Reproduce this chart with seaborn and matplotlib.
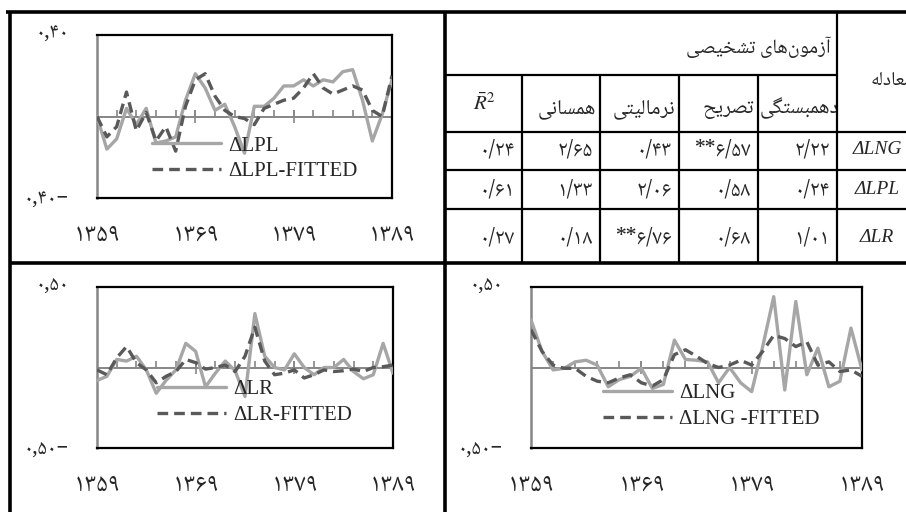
import numpy as np
import matplotlib
matplotlib.use("Agg")
import matplotlib.pyplot as plt
import seaborn as sns
from matplotlib.transforms import Bbox, TransformedBbox, ScaledTranslation

# ── Data ──────────────────────────────────────────────────
years = list(range(1359, 1390))
label_years = [1359, 1369, 1379, 1389]
year_labels = ["۱۳۵۹", "۱۳۶۹", "۱۳۷۹", "۱۳۸۹"]
minor_years = list(range(1361, 1389, 2))
major_years = [1369, 1379]

lpl = [0.00, -0.16, -0.11, 0.04, -0.04, 0.04, -0.13, -0.12, -0.10, 0.08, 0.21,
       0.14, 0.03, 0.06, -0.05, -0.18, 0.05, 0.05, 0.09, 0.15, 0.15, 0.18, 0.15,
       0.18, 0.17, 0.22, 0.23, 0.08, -0.12, 0.01, 0.18]
lpl_fit = [0.00, -0.10, -0.05, 0.12, -0.07, 0.02, -0.12, -0.05, -0.17, 0.05, 0.18,
           0.21, 0.10, 0.03, 0.00, -0.01, -0.04, 0.04, 0.06, 0.08, 0.09, 0.14, 0.21,
           0.14, 0.11, 0.13, 0.15, 0.13, 0.03, 0.00, 0.20]

lr = [-0.08, -0.055, 0.05, 0.04, 0.07, -0.015, -0.16, -0.08, -0.015, 0.15, 0.10,
      -0.12, -0.035, 0.04, -0.02, -0.18, 0.335, 0.07, 0.00, -0.015, 0.085, 0.00,
      -0.045, 0.00, 0.00, 0.05, -0.025, -0.07, -0.045, 0.15, -0.035]
lr_fit = [-0.015, -0.045, 0.06, 0.13, 0.03, -0.015, -0.095, -0.055, -0.025, 0.05,
          0.03, -0.01, 0.00, 0.015, -0.025, 0.07, 0.25, 0.04, -0.045, -0.035,
          -0.015, -0.065, -0.045, -0.015, -0.025, -0.02, -0.01, -0.025, 0.00,
          0.005, 0.015]

lng = [0.295, 0.10, -0.015, -0.005, 0.035, 0.045, 0.015, -0.12, -0.075, -0.055,
       -0.005, -0.13, -0.105, 0.17, 0.05, 0.045, 0.035, -0.095, 0.00, -0.095,
       -0.15, 0.13, 0.44, -0.14, 0.41, -0.045, 0.12, -0.12, -0.085, 0.245, -0.015]
lng_fit = [0.235, 0.10, 0.015, -0.005, -0.005, -0.055, -0.085, -0.095, -0.065,
           -0.045, -0.095, -0.115, -0.075, 0.08, 0.11, 0.07, 0.025, 0.00, 0.015,
           0.045, 0.015, 0.10, 0.20, 0.18, 0.13, 0.16, 0.015, 0.035, -0.025,
           -0.015, -0.055]

# table (columns left to right, as printed)
col_heads = ["همسانی", "نرمالیتی", "تصریح", "خودهمبستگی"]
eq_labels = ["ΔLNG", "ΔLPL", "ΔLR"]
row_lng = ["۰/۲۴", "۲/۶۵", "۰/۴۳", "**۶/۵۷", "۲/۲۲"]
row_lpl = ["۰/۶۱", "۱/۳۳", "۲/۰۶", "۰/۵۸", "۰/۲۴"]
row_lr = ["۰/۲۷", "۰/۱۸", "**۶/۷۶", "۰/۶۸", "۱/۰۱"]
group_head = "آزمون\u200cهای تشخیصی"
eq_head = "معادله"

# ── Style ─────────────────────────────────────────────────
sns.set_style("white")
FA = ["Noto Naskh Arabic", "DejaVu Sans"]
SERIF = ["Liberation Serif", "DejaVu Serif"]
plt.rcParams["font.family"] = FA
plt.rcParams["mathtext.fontset"] = "stix"
LIGHT = "#A6A6A6"
DARK = "#595959"
AXGRAY = "#868686"

# minimal Persian shaping (presentation forms, visual order)
FORMS = {
    "آ": (0xFE81, 0xFE82, None, None), "ا": (0xFE8D, 0xFE8E, None, None),
    "ب": (0xFE8F, 0xFE90, 0xFE91, 0xFE92), "ت": (0xFE95, 0xFE96, 0xFE97, 0xFE98),
    "ح": (0xFEA1, 0xFEA2, 0xFEA3, 0xFEA4), "خ": (0xFEA5, 0xFEA6, 0xFEA7, 0xFEA8),
    "د": (0xFEA9, 0xFEAA, None, None), "ر": (0xFEAD, 0xFEAE, None, None),
    "ز": (0xFEAF, 0xFEB0, None, None), "س": (0xFEB1, 0xFEB2, 0xFEB3, 0xFEB4),
    "ش": (0xFEB5, 0xFEB6, 0xFEB7, 0xFEB8), "ص": (0xFEB9, 0xFEBA, 0xFEBB, 0xFEBC),
    "ع": (0xFEC9, 0xFECA, 0xFECB, 0xFECC), "ل": (0xFEDD, 0xFEDE, 0xFEDF, 0xFEE0),
    "م": (0xFEE1, 0xFEE2, 0xFEE3, 0xFEE4), "ن": (0xFEE5, 0xFEE6, 0xFEE7, 0xFEE8),
    "ه": (0xFEE9, 0xFEEA, 0xFEEB, 0xFEEC), "و": (0xFEED, 0xFEEE, None, None),
    "\u06A9": (0xFB8E, 0xFB8F, 0xFB90, 0xFB91), "\u06AF": (0xFB92, 0xFB93, 0xFB94, 0xFB95),
    "\u06CC": (0xFBFC, 0xFBFD, 0xFBFE, 0xFBFF),
}


def fa(s):
    s = s.replace("\u064A", "\u06CC").replace("\u0643", "\u06A9")
    out = []
    for i, ch in enumerate(s):
        if ch not in FORMS:
            if ch != "\u200c":
                out.append(ch)
            continue
        prev = s[i - 1] if i > 0 else ""
        nxt = s[i + 1] if i + 1 < len(s) else ""
        jp = prev in FORMS and FORMS[prev][2] is not None
        jn = nxt in FORMS and FORMS[ch][2] is not None
        iso, fin, ini, med = FORMS[ch]
        code = med if (jp and jn) else fin if jp else ini if jn else iso
        out.append(chr(code))
    return "".join(reversed(out))


W, H = 906, 512
fig = plt.figure(figsize=(W / 100, H / 100), dpi=100)
fig.patch.set_facecolor("white")

bg = fig.add_axes([0, 0, 1, 1])
bg.set_xlim(0, W); bg.set_ylim(H, 0); bg.axis("off")

# ── Table frame ───────────────────────────────────────────
THICK, THIN = 2.6, 1.6
bg.hlines(12, 6, W, color="black", lw=THICK)
bg.vlines(10, 12, H, color="black", lw=THICK)
bg.vlines(445, 12, H, color="black", lw=THICK)
bg.hlines(263, 10, W, color="black", lw=THICK)
bg.hlines(75, 445, 837, color="black", lw=THIN)
bg.hlines([132, 170, 209], 445, W, color="black", lw=THIN)
col_edges = [445, 522, 600, 679, 758, 837]
bg.vlines(col_edges[1:-1], 75, 263, color="black", lw=THIN)
bg.vlines(837, 12, 263, color="black", lw=THIN)

bg.text(831, 47, fa(group_head), ha="right", va="center", fontsize=14.5)
bg.text(913, 80, fa(eq_head), ha="right", va="center", fontsize=14)
bg.text(484, 104, r"$\bar{R}^2$", ha="center", va="center", fontsize=15)
for j, head in enumerate(col_heads):
    last = j == len(col_heads) - 1
    # the last header overflows its cell and is cut at the cell's right edge
    t = bg.text(col_edges[j + 1] + 2 if last else col_edges[j + 2] - 4, 108,
                fa(head), ha="left" if last else "right", va="center",
                fontsize=15, clip_on=True)
    cell = Bbox([[col_edges[j + 1] + 1, 76], [col_edges[j + 2] - 1, 131]])
    t.set_clip_box(TransformedBbox(cell, bg.transData))

row_ys = [150, 190, 237]
for y, lab, row in zip(row_ys, eq_labels, [row_lng, row_lpl, row_lr]):
    bg.text(877, y, lab, ha="center", va="center", fontsize=14,
            family=SERIF, style="italic")
    for j, v in enumerate(row):
        bg.text(col_edges[j + 1] - 7, y, v, ha="right", va="center",
                fontsize=15.5, fontweight="bold")


# ── Charts ────────────────────────────────────────────────
def chart(box, actual, fitted, lim, name, fit_name, ylabs, leg_xy):
    x0, y0, x1, y1 = box
    ax = fig.add_axes([x0 / W, 1 - y1 / H, (x1 - x0) / W, (y1 - y0) / H])
    ax.set_facecolor("none")
    sns.lineplot(x=years, y=actual, ax=ax, color=LIGHT, linewidth=2.4,
                 label=name, zorder=3)
    sns.lineplot(x=years, y=fitted, ax=ax, color=DARK, linewidth=2.4,
                 linestyle=(0, (3.2, 1.8)), label=fit_name, zorder=4)
    ax.set_xlim(1359, 1389)
    ax.set_ylim(-lim, lim)
    ax.axhline(0, color=AXGRAY, lw=1.4, zorder=2)
    tk = lim * 0.075
    ax.vlines(minor_years, 0, tk, color=AXGRAY, lw=1.2, zorder=2)
    ax.vlines(major_years, -tk, tk, color=AXGRAY, lw=1.2, zorder=2)
    ax.set_xticks(label_years, year_labels, fontsize=18.5, family=FA)
    ax.set_yticks([-lim, lim], ylabs, fontsize=15, family=FA)
    ax.tick_params(axis="x", length=0, pad=17)
    ax.tick_params(axis="y", length=0, pad=20)
    for lbl, dy in zip(ax.get_yticklabels(), [-6, -3]):
        lbl.set_verticalalignment("baseline")
        lbl.set_transform(lbl.get_transform()
                          + ScaledTranslation(0, dy / 100, fig.dpi_scale_trans))
    for s in ["top", "right", "bottom"]:
        ax.spines[s].set_color("black")
        ax.spines[s].set_linewidth(1.6)
    ax.spines["left"].set_color(AXGRAY)
    ax.spines["left"].set_linewidth(1.8)
    ax.legend(loc="upper left", bbox_to_anchor=leg_xy, frameon=False,
              prop={"family": SERIF, "size": 15}, handlelength=3.3,
              handletextpad=0.35, labelspacing=0.3, borderpad=0,
              borderaxespad=0)
    return ax


chart((97, 35, 392, 198), lpl, lpl_fit, 0.4, "ΔLPL", "ΔLPL-FITTED",
      ["۰,۴۰−", "۰,۴۰"], (0.186, 0.38))
chart((97, 287, 393, 448), lr, lr_fit, 0.5, "ΔLR", "ΔLR-FITTED",
      ["۰,۵۰−", "۰,۵۰"], (0.203, 0.425))
chart((531, 287, 862, 448), lng, lng_fit, 0.5, "ΔLNG", "ΔLNG -FITTED",
      ["۰,۵۰−", "۰,۵۰"], (0.218, 0.40))

fig.savefig("out.png", dpi=100, facecolor="white")
